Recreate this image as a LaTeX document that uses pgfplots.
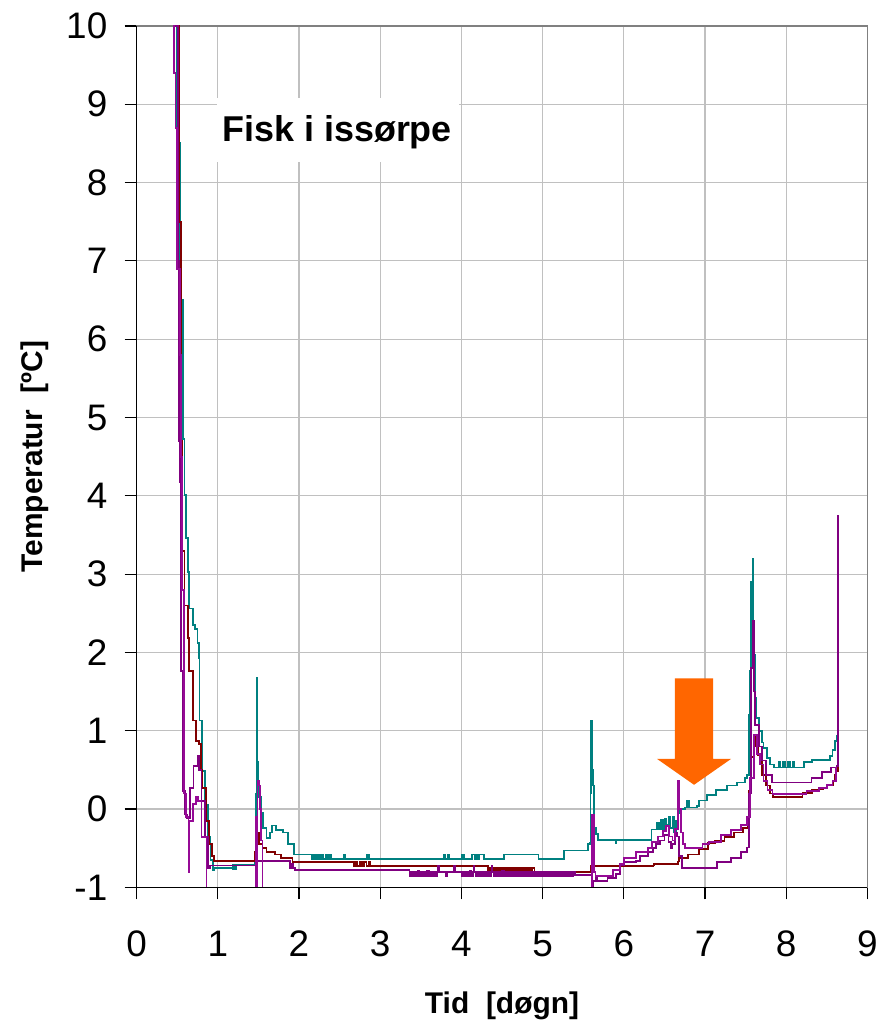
\documentclass[border=0pt]{standalone}
\usepackage{pgfplots}
\pgfplotsset{compat=1.18}
\usepackage{fontspec}
\setmainfont{Liberation Sans}

\definecolor{cteal}{RGB}{0,128,128}
\definecolor{cred}{RGB}{128,0,0}
\definecolor{cpurA}{RGB}{128,0,128}
\definecolor{cpurB}{RGB}{150,10,150}
\definecolor{carrow}{RGB}{255,102,0}
\definecolor{cgrid}{RGB}{192,192,192}

\begin{document}
\begin{tikzpicture}
\begin{axis}[
  at={(0,0)}, anchor=south west,
  scale only axis, width=366.5pt, height=432pt,
  xmin=0, xmax=9, ymin=-1, ymax=10,
  xtick={0,...,9}, ytick={-1,0,...,10},
  xticklabels={0,1,2,3,4,5,6,7,8,9},
  yticklabels={-1,0,1,2,3,4,5,6,7,8,9,10},
  xtick pos=bottom, ytick pos=left,
  tick align=outside, major tick length=6pt,
  tick style={black, line width=0.6pt},
  grid=major, grid style={cgrid, line width=0.6pt},
  axis line style={draw=gray, line width=0.6pt},
  ticklabel style={font=\fontsize{18.5}{20}\selectfont},
  yticklabel style={anchor=east, inner sep=0pt, xshift=-8.5pt},
  xticklabel style={anchor=north, inner sep=0pt, yshift=-15.5pt},
  clip mode=individual,
  every axis plot/.append style={line width=0.9pt, const plot},
]
\fill[white] (axis cs:0.99,8.26) rectangle (axis cs:3.97,9.08);
\node[anchor=base, font=\bfseries\fontsize{18}{20}\selectfont] at (axis cs:2.47,8.52) {Fisk i issørpe};

% teal
\addplot[cteal] coordinates {
(0.46,12)(0.48,10)(0.5,8.5)(0.53,6.5)(0.568,4.73)(0.589,4.01)(0.61,3.46)(0.63,3.03)
(0.65,2.56)(0.69,2.35)(0.72,2.3)(0.75,2.12)(0.77,1.93)(0.775,1.13)(0.81,0.49)(0.84,0.05)
(0.875,-0.36)(0.91,-0.65)(0.94,-0.78)(0.96,-0.75)(1.17,-0.75)(1.18,-0.71)(1.19,-0.77)
(1.2,-0.71)(1.21,-0.77)(1.22,-0.71)(1.44,-0.71)(1.46,-0.6)(1.47,0.2)(1.48,1.67)(1.49,0.6)
(1.5,0.15)(1.53,-0.05)(1.56,-0.24)(1.6,-0.37)(1.64,-0.3)(1.67,-0.21)(1.72,-0.27)(1.8,-0.3)
(1.86,-0.45)(1.94,-0.58)(2.15,-0.58)(2.16,-0.64)(2.18,-0.58)(2.2,-0.64)(2.22,-0.58)
(2.25,-0.64)(2.27,-0.58)(2.3,-0.64)(2.33,-0.58)(2.36,-0.64)(2.38,-0.58)(2.4,-0.64)
(2.54,-0.64)(2.55,-0.58)(2.57,-0.64)(2.83,-0.64)(2.84,-0.58)(2.86,-0.64)
(3.77,-0.64)(3.78,-0.58)(3.8,-0.64)(3.83,-0.58)(3.85,-0.64)(4.0,-0.64)(4.01,-0.58)
(4.03,-0.64)(4.12,-0.64)(4.13,-0.58)(4.16,-0.64)(4.18,-0.58)(4.2,-0.64)(4.22,-0.58)
(4.26,-0.58)(4.28,-0.64)(4.51,-0.64)(4.52,-0.58)(4.94,-0.58)(4.95,-0.64)(5.25,-0.64)
(5.26,-0.53)(5.55,-0.53)(5.56,-0.45)(5.58,-0.43)(5.59,0.2)(5.6,1.13)(5.61,0.5)(5.62,0.36)
(5.625,0.3)(5.63,-0.1)(5.64,-0.24)(5.66,-0.32)(5.68,-0.39)(5.89,-0.39)(5.9,-0.44)
(5.91,-0.39)(6.33,-0.39)(6.34,-0.26)(6.4,-0.26)(6.41,-0.18)(6.43,-0.26)(6.46,-0.14)
(6.48,-0.26)(6.5,-0.12)(6.52,-0.2)(6.55,-0.1)(6.57,-0.24)(6.6,-0.1)(6.62,-0.3)(6.64,-0.15)
(6.66,0.36)(6.67,0.1)(6.68,-0.05)(6.7,0.0)(6.75,0.02)(6.78,0.1)(6.8,0.02)(6.9,0.04)
(6.93,0.11)(7.0,0.11)(7.02,0.18)(7.12,0.18)(7.14,0.24)(7.25,0.24)(7.27,0.3)(7.37,0.3)
(7.39,0.34)(7.47,0.34)(7.49,0.4)(7.52,0.44)(7.54,1.2)(7.555,1.76)(7.565,2.9)(7.575,2.6)
(7.585,3.2)(7.595,2.35)(7.605,1.97)(7.615,1.42)(7.63,1.16)(7.66,1.0)(7.7,0.85)(7.72,0.78)
(7.76,0.65)(7.8,0.57)(7.85,0.53)(7.9,0.53)(7.91,0.6)(7.93,0.53)(7.96,0.6)(7.98,0.53)
(8.02,0.6)(8.05,0.53)(8.08,0.6)(8.1,0.53)(8.2,0.53)(8.22,0.6)(8.3,0.6)(8.32,0.63)
(8.52,0.63)(8.54,0.68)(8.57,0.75)(8.6,0.87)(8.62,0.93)(8.635,0.93)
};

% dark red
\addplot[cred] coordinates {
(0.49,12)(0.5,10)(0.52,7.5)(0.55,4.7)(0.56,3.3)(0.589,2.6)(0.63,2.18)(0.65,1.76)
(0.69,1.13)(0.73,0.87)(0.77,0.83)(0.79,0.5)(0.81,0.27)(0.85,-0.15)(0.89,-0.45)
(0.93,-0.6)(0.95,-0.66)(1.43,-0.66)(1.46,-0.55)(1.47,-0.24)(1.49,-0.3)(1.51,-0.45)
(1.55,-0.5)(1.6,-0.55)(1.7,-0.58)(1.78,-0.62)(1.9,-0.62)(1.92,-0.68)(2.67,-0.68)
(2.68,-0.73)(2.7,-0.68)(2.72,-0.73)(2.75,-0.68)(2.78,-0.73)(2.8,-0.68)(2.83,-0.73)
(2.86,-0.68)(2.88,-0.73)(4.32,-0.73)(4.33,-0.8)(4.35,-0.75)(4.37,-0.8)(4.39,-0.75)
(4.41,-0.8)(4.43,-0.75)(4.45,-0.8)(4.47,-0.75)(4.49,-0.8)(4.51,-0.75)(4.53,-0.8)
(4.55,-0.75)(4.57,-0.8)(4.59,-0.75)(4.61,-0.8)(4.63,-0.75)(4.65,-0.8)(4.67,-0.75)
(4.69,-0.8)(4.71,-0.75)(4.73,-0.8)(4.75,-0.75)(4.77,-0.8)(4.79,-0.75)(4.81,-0.8)
(4.83,-0.75)(4.85,-0.8)(4.87,-0.75)(4.9,-0.8)(5.59,-0.8)(5.6,-0.73)(6.36,-0.72)
(6.37,-0.7)(6.67,-0.67)(6.68,-0.62)(6.79,-0.58)(6.93,-0.51)(7.04,-0.43)(7.12,-0.41)
(7.24,-0.36)(7.36,-0.3)(7.47,-0.24)(7.53,-0.17)(7.545,0.23)(7.56,0.66)(7.6,0.95)
(7.62,0.8)(7.65,0.69)(7.7,0.44)(7.75,0.3)(7.8,0.2)(7.84,0.15)(8.18,0.15)(8.2,0.21)
(8.3,0.21)(8.32,0.25)(8.45,0.27)(8.5,0.31)(8.58,0.36)(8.6,0.44)(8.62,0.49)(8.64,1.42)
};

% purple A
\addplot[cpurA] coordinates {
(0.47,12)(0.49,10)(0.51,7)(0.52,4.7)(0.53,4.18)(0.54,2.82)(0.55,1.76)(0.57,0.23)
(0.6,-0.07)(0.62,-0.11)(0.66,0.27)(0.7,0.55)(0.75,0.68)(0.77,0.5)(0.8,0.1)(0.84,-0.36)
(0.88,-0.75)(0.9,-0.72)(1.45,-0.72)(1.47,-0.66)(1.88,-0.66)(1.89,-0.75)(1.91,-0.7)
(1.93,-0.75)(1.95,-0.78)(3.35,-0.78)(3.36,-0.85)(3.38,-0.80)(3.40,-0.86)(3.42,-0.80)
(3.44,-0.86)(3.46,-0.79)(3.48,-0.85)(3.50,-0.80)(3.52,-0.86)(3.54,-0.80)(3.56,-0.86)
(3.58,-0.79)(3.60,-0.85)(3.62,-0.80)(3.64,-0.86)(3.66,-0.80)(3.68,-0.86)(3.70,-0.80)
(3.71,-0.73)(3.72,-0.80)(3.80,-0.80)(3.81,-0.86)(3.82,-0.80)(3.90,-0.80)(3.91,-0.73)
(3.92,-0.80)(3.98,-0.80)(4.00,-0.86)(4.02,-0.80)(4.04,-0.86)(4.06,-0.80)(4.08,-0.86)
(4.10,-0.79)(4.12,-0.86)(4.14,-0.80)(4.15,-0.73)(4.16,-0.80)(4.18,-0.86)(4.20,-0.80)
(4.22,-0.86)(4.24,-0.80)(4.26,-0.86)(4.28,-0.80)(4.30,-0.86)(4.32,-0.80)(4.34,-0.86)
(4.36,-0.80)(4.37,-0.73)(4.38,-0.80)(4.40,-0.86)(4.42,-0.80)(4.44,-0.86)(4.46,-0.80)
(4.48,-0.86)(4.50,-0.79)(4.52,-0.86)(4.54,-0.80)(4.56,-0.86)(4.58,-0.80)(4.60,-0.86)
(4.62,-0.80)(4.64,-0.86)(4.66,-0.80)(4.68,-0.86)(4.70,-0.80)(4.72,-0.86)(4.74,-0.80)
(4.76,-0.86)(4.78,-0.80)(4.80,-0.86)(4.82,-0.80)(4.84,-0.86)(4.86,-0.80)(4.88,-0.86)
(4.90,-0.80)(4.92,-0.86)(4.94,-0.80)(4.96,-0.86)(4.98,-0.80)(5.00,-0.86)(5.02,-0.80)
(5.04,-0.86)(5.06,-0.80)(5.08,-0.86)(5.10,-0.80)(5.12,-0.86)(5.14,-0.80)(5.16,-0.86)
(5.18,-0.80)(5.20,-0.86)(5.22,-0.80)(5.24,-0.86)(5.26,-0.80)(5.28,-0.86)(5.30,-0.80)
(5.32,-0.86)(5.34,-0.80)(5.36,-0.86)(5.38,-0.80)(5.40,-0.84)(5.60,-0.84)(5.61,-1.3)
(5.625,-0.92)(5.66,-0.87)(5.67,-0.92)(5.8,-0.88)(5.9,-0.83)(5.95,-0.72)(6.0,-0.68)
(6.15,-0.66)(6.2,-0.6)(6.3,-0.55)(6.36,-0.5)(6.4,-0.45)(6.45,-0.4)(6.5,-0.33)(6.55,-0.42)
(6.58,-0.5)(6.6,-0.45)(6.63,-0.3)(6.65,-0.35)(6.68,-0.6)(6.72,-0.75)(7.13,-0.75)
(7.15,-0.68)(7.3,-0.68)(7.32,-0.62)(7.42,-0.62)(7.44,-0.55)(7.5,-0.55)(7.52,-0.49)
(7.54,0.2)(7.57,1.8)(7.585,2.4)(7.6,1.5)(7.62,1.07)(7.66,0.8)(7.7,0.62)(7.75,0.44)
(7.82,0.34)(8.3,0.34)(8.31,0.4)(8.42,0.4)(8.44,0.47)(8.55,0.53)(8.62,0.55)(8.635,2.0)
(8.64,3.75)
};

% purple B
\addplot[cpurB] coordinates {
(0.44,12)(0.46,9.4)(0.48,8.7)(0.5,6.9)(0.53,5.8)(0.55,4.5)(0.56,2.8)(0.58,0.2)
(0.61,-0.1)(0.64,-0.8)(0.65,-0.15)(0.69,0.06)(0.73,0.15)(0.76,0.1)(0.8,-0.36)
(0.86,-1.2)(0.9,-1.6)(1.46,-1.5)(1.465,-0.1)(1.47,-1.3)(1.48,-0.5)(1.49,0.36)(1.51,0.3)
(1.52,0.0)(1.535,-0.4)(1.55,-1.3)(1.56,-1.5)(5.59,-1.5)(5.605,-0.07)(5.63,-0.8)
(5.65,-0.85)(5.85,-0.85)(5.87,-0.78)(5.95,-0.7)(6.0,-0.62)(6.1,-0.62)(6.15,-0.55)
(6.3,-0.5)(6.35,-0.42)(6.42,-0.35)(6.48,-0.28)(6.52,-0.22)(6.56,-0.35)(6.6,-0.4)
(6.63,-0.25)(6.665,0.36)(6.68,0.0)(6.7,-0.3)(6.73,-0.45)(6.75,-0.5)(6.95,-0.5)
(6.97,-0.45)(7.05,-0.42)(7.2,-0.33)(7.32,-0.27)(7.44,-0.2)(7.52,-0.1)(7.55,0.4)
(7.6,0.95)(7.64,0.7)(7.68,0.57)(7.72,0.36)(7.77,0.24)(7.83,0.19)(8.2,0.19)(8.25,0.23)
(8.4,0.27)(8.5,0.31)(8.57,0.36)(8.61,0.53)(8.63,0.53)
};

% arrow
\fill[carrow] (axis cs:6.63,1.67) -- (axis cs:7.10,1.67) -- (axis cs:7.10,0.64)
  -- (axis cs:7.32,0.64) -- (axis cs:6.865,0.31) -- (axis cs:6.41,0.64)
  -- (axis cs:6.63,0.64) -- cycle;

% dark left and bottom axis lines
\draw[black, line width=0.8pt] (rel axis cs:0,1) -- (rel axis cs:0,0) -- (rel axis cs:1,0);

\node[anchor=base, font=\bfseries\fontsize{15}{18}\selectfont]
  at ([yshift=-63pt]rel axis cs:0.5,0) {Tid\hspace{0.56em}[døgn]};
\node[rotate=90, anchor=base, font=\bfseries\fontsize{15}{18}\selectfont]
  at ([xshift=-47pt]rel axis cs:0,0.5) {Temperatur\hspace{0.56em}[ºC]};
\end{axis}
\path[use as bounding box] (-68.5pt,-68pt) rectangle (377.5pt,445pt);
\end{tikzpicture}
\end{document}
